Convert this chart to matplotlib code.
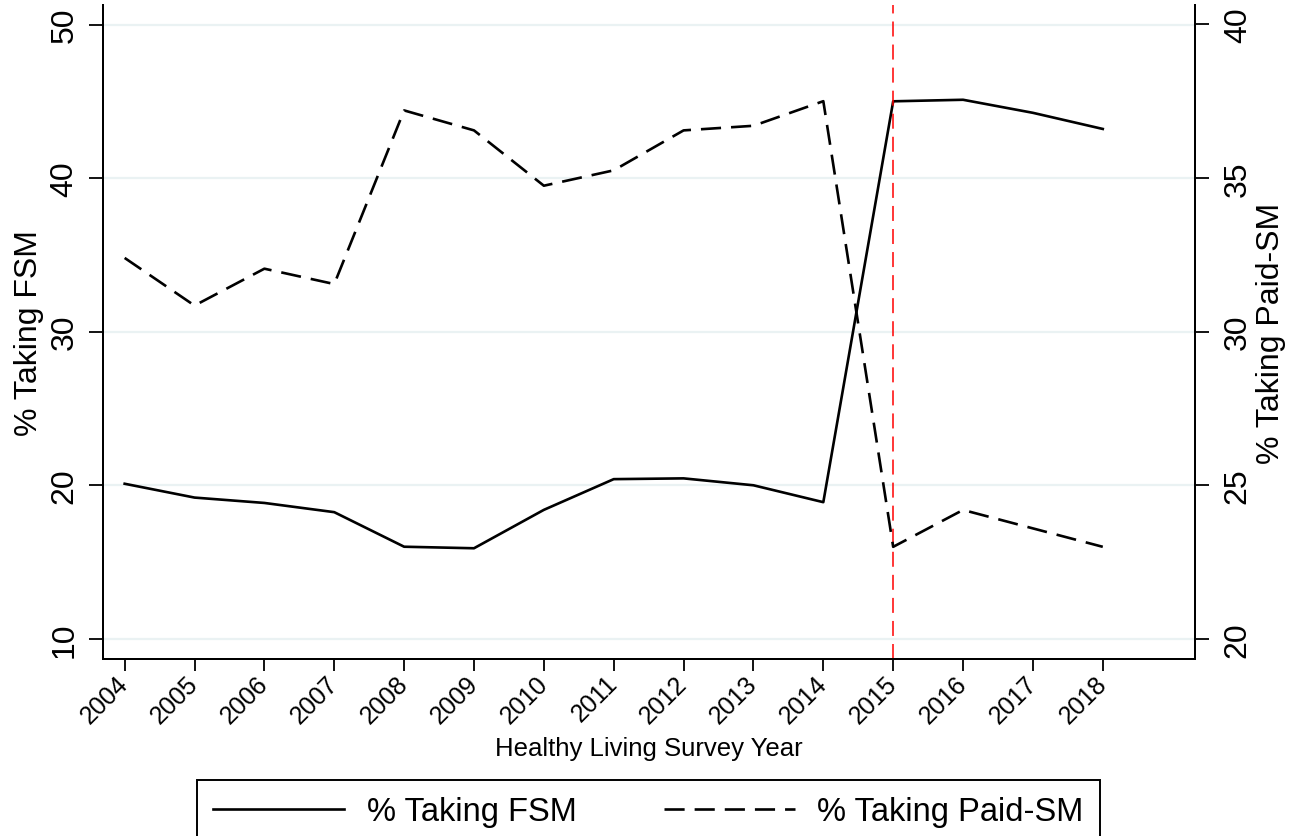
import matplotlib
matplotlib.use('Agg')
import matplotlib.pyplot as plt

# ---- data ----
years = list(range(2004, 2019))
fsm_pct = [20.1, 19.2, 18.85, 18.25, 16.0, 15.9, 18.4, 20.4, 20.45, 20.0, 18.9, 45.0, 45.1, 44.25, 43.2]
paid_pct = [32.4, 30.85, 32.05, 31.55, 37.2, 36.55, 34.75, 35.25, 36.55, 36.7, 37.5, 23.0, 24.2, 23.6, 23.0]
left_ticks = [10, 20, 30, 40, 50]
right_ticks = [20, 25, 30, 35, 40]
policy_year = 2015
label_fsm = "% Taking FSM"
label_paid = "% Taking Paid-SM"
xlabel = "Healthy Living Survey Year"

plt.rcParams['font.family'] = ['Liberation Sans', 'DejaVu Sans']
plt.rcParams['lines.scale_dashes'] = False

W, H = 1302, 837
fig = plt.figure(figsize=(W / 100, H / 100), dpi=100)
ax = fig.add_axes([103 / W, 1 - 660 / H, (1195 - 103) / W, (660 - 6) / H])
ax2 = ax.twinx()

lw = 1.9
l1, = ax.plot(years, fsm_pct, color='black', lw=lw, zorder=3)
l2, = ax2.plot(years, paid_pct, color='black', lw=lw, dashes=(14.5, 7.2), zorder=3)
ax.axvline(policy_year, color='#ff0000', lw=1.1, dashes=(10.8, 5.8), zorder=4)

ax.set_xlim(2003.69, 2019.32)
ax.set_ylim(8.69, 51.27)
ax2.set_ylim(19.35, 40.63)

ax.set_xticks(years)
ax.set_xticklabels([str(y) for y in years], rotation=45, ha='right', va='center',
                   rotation_mode='anchor', fontsize=18)
ax.set_yticks(left_ticks)
ax.set_yticklabels([str(v) for v in left_ticks], rotation=90, va='center', fontsize=23)
ax2.set_yticks(right_ticks)
ax2.set_yticklabels([str(v) for v in right_ticks], rotation=90, va='center', fontsize=23)

ax.tick_params(axis='x', length=8.6, width=1.3, pad=6, color='black')
ax.tick_params(axis='y', length=10, width=1.3, pad=7, color='black')
ax2.tick_params(axis='y', length=10, width=1.3, pad=10, color='black')

ax.grid(axis='y', color='#eaf2f3', lw=1.6, zorder=0)
ax.set_axisbelow(True)

for a in (ax, ax2):
    a.spines['top'].set_visible(False)
    for s in ('left', 'right', 'bottom'):
        a.spines[s].set_linewidth(1.4)
        a.spines[s].set_color('black')

ax.set_ylabel(label_fsm, fontsize=23, labelpad=4)
ax2.set_ylabel(label_paid, fontsize=23, labelpad=2, rotation=90)
ax.set_xlabel(xlabel, fontsize=18.5, labelpad=6)

leg = fig.legend(handles=[l1, l2], labels=[label_fsm, label_paid],
                 loc='upper left', bbox_to_anchor=(197 / W, 0, 903 / W, 1 - 781 / H),
                 mode='expand', ncol=2, borderaxespad=0, fontsize=23.5,
                 handlelength=4.0, handletextpad=0.7, borderpad=0.5,
                 fancybox=False, framealpha=1, edgecolor='black')
leg.get_frame().set_linewidth(1.4)

fig.savefig('out.png', dpi=100)
